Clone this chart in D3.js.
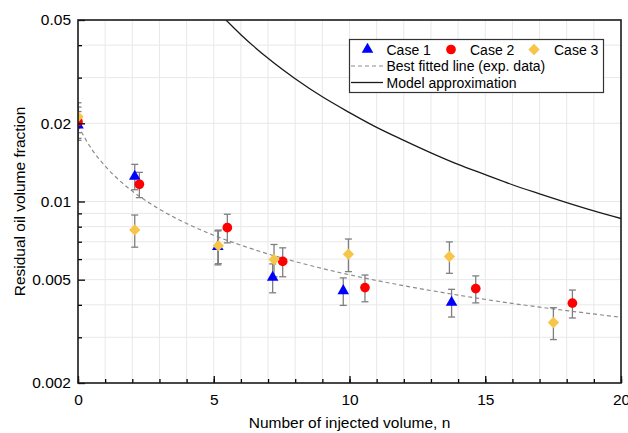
<!DOCTYPE html>
<html>
<head>
<meta charset="utf-8">
<script src="https://cdn.jsdelivr.net/npm/d3@7"></script>
<style>
  body { margin: 0; background: #fff; }
  text { font-family: "Liberation Sans", Arial, sans-serif; fill: #000; }
</style>
</head>
<body>
<div id="chart"></div>
<script>
// data
var case1N = [0, 2.09, 5.15, 7.17, 9.77, 13.76];
var case1V = [0.0197, 0.0125, 0.0067, 0.0051, 0.00453, 0.00409];
var case1E = [0.0025, 0.0014, 0.001, 0.00065, 0.00055, 0.0005];

var case2N = [0, 2.26, 5.5, 7.54, 10.57, 14.65, 18.21];
var case2V = [0.0203, 0.01165, 0.00793, 0.00588, 0.00466, 0.00462, 0.00406];
var case2E = [0.0028, 0.0013, 0.001, 0.00075, 0.00055, 0.00055, 0.0005];

var case3N = [0, 2.09, 5.17, 7.22, 9.96, 13.68, 17.51];
var case3V = [0.0212, 0.00777, 0.00676, 0.00598, 0.00627, 0.00614, 0.00342];
var case3E = [0.0028, 0.0011, 0.001, 0.00085, 0.0009, 0.00085, 0.00048];

var fitN = [0, 0.5, 1, 1.5, 2, 3, 4, 5, 6, 7, 8, 9, 10, 12, 14, 16, 18, 20];
var fitV = [0.0196, 0.01594, 0.01369, 0.01212, 0.01097, 0.00934, 0.00823, 0.00741, 0.00679, 0.00628,
            0.00587, 0.00552, 0.00522, 0.00474, 0.00436, 0.00405, 0.0038, 0.00358];

var modelN = [5.45, 6, 7, 8, 9, 10, 11, 12, 13, 14, 15, 16, 17, 18, 19, 20];
var modelV = [0.05, 0.0439, 0.0356, 0.0297, 0.0253, 0.022, 0.0193, 0.0172, 0.0154, 0.0139,
              0.0127, 0.0116, 0.0107, 0.0099, 0.0092, 0.0086];

var xMajor = [0, 5, 10, 15, 20];
var xMinor = d3.range(0, 21, 1);
var yMajor = [0.002, 0.005, 0.01, 0.02, 0.05];
var yMajorLabels = ["0.002", "0.005", "0.01", "0.02", "0.05"];
var yMinor = [0.003, 0.004, 0.006, 0.007, 0.008, 0.009, 0.03, 0.04];

var width = 628, height = 433;
var margin = {top: 20, right: 7, bottom: 50, left: 78};

var svg = d3.select("#chart").append("svg")
    .attr("width", width)
    .attr("height", height);

var x = d3.scaleLinear().domain([0, 20]).range([margin.left, width - margin.right]);
var y = d3.scaleLog().domain([0.002, 0.05]).range([height - margin.bottom, margin.top]);

svg.append("clipPath").attr("id", "plot-clip")
  .append("rect")
    .attr("x", margin.left).attr("y", margin.top)
    .attr("width", x(20) - x(0)).attr("height", y(0.002) - y(0.05));

// grid
var grid = svg.append("g").attr("stroke", "#e8e8e8").attr("stroke-width", 1);
grid.selectAll(".gx").data(xMinor.slice(1, -1)).enter().append("line")
    .attr("x1", function(d){ return x(d); }).attr("x2", function(d){ return x(d); })
    .attr("y1", y(0.002)).attr("y2", y(0.05));
grid.selectAll(".gy").data(yMinor.concat(yMajor.slice(1, -1))).enter().append("line")
    .attr("y1", function(d){ return y(d); }).attr("y2", function(d){ return y(d); })
    .attr("x1", x(0)).attr("x2", x(20));

var plot = svg.append("g").attr("clip-path", "url(#plot-clip)");

// lines
var lineGen = d3.line()
    .x(function(d){ return x(d[0]); })
    .y(function(d){ return y(d[1]); })
    .curve(d3.curveMonotoneX);

plot.append("path")
    .datum(d3.zip(fitN, fitV))
    .attr("d", lineGen)
    .attr("fill", "none")
    .attr("stroke", "#8c8c8c")
    .attr("stroke-width", 1.2)
    .attr("stroke-dasharray", "4,3");

plot.append("path")
    .datum(d3.zip(modelN, modelV))
    .attr("d", lineGen)
    .attr("fill", "none")
    .attr("stroke", "#1a1a1a")
    .attr("stroke-width", 1.3);

// series
var series = [
  {n: case1N, v: case1V, e: case1E, color: "#0000ff", shape: d3.symbolTriangle, size: 58, rot: 0},
  {n: case2N, v: case2V, e: case2E, color: "#ff0000", shape: d3.symbolCircle, size: 74, rot: 0},
  {n: case3N, v: case3V, e: case3E, color: "#f7c548", shape: d3.symbolSquare, size: 64, rot: 45}
];

series.forEach(function(s){
  var pts = d3.zip(s.n, s.v, s.e);
  var eb = plot.append("g").attr("stroke", "#7f7f7f").attr("stroke-width", 1.3);
  pts.forEach(function(p){
    var cx = x(p[0]);
    var t = y(p[1] + p[2]), b = y(p[1] - p[2]);
    eb.append("line").attr("x1", cx).attr("x2", cx).attr("y1", t).attr("y2", b);
    eb.append("line").attr("x1", cx - 3.5).attr("x2", cx + 3.5).attr("y1", t).attr("y2", t);
    eb.append("line").attr("x1", cx - 3.5).attr("x2", cx + 3.5).attr("y1", b).attr("y2", b);
  });
});

series.forEach(function(s){
  var pts = d3.zip(s.n, s.v);
  plot.append("g").selectAll("path").data(pts).enter().append("path")
      .attr("d", d3.symbol().type(s.shape).size(s.size))
      .attr("transform", function(d){ return "translate(" + x(d[0]) + "," + y(d[1]) + ") rotate(" + s.rot + ")"; })
      .attr("fill", s.color);
});

// axes
var axisFont = "15.5px";
var xAxis = svg.append("g")
    .attr("transform", "translate(0," + y(0.002) + ")")
    .call(d3.axisBottom(x).tickValues(xMinor).tickSize(-4).tickFormat(""));
xAxis.select(".domain").remove();
var xAxisMajor = svg.append("g")
    .attr("transform", "translate(0," + y(0.002) + ")")
    .call(d3.axisBottom(x).tickValues(xMajor).tickSize(-7).tickPadding(11).tickFormat(d3.format("d")));
xAxisMajor.select(".domain").remove();
xAxisMajor.selectAll("text").style("font-size", axisFont).attr("fill", "#000");

var yAxis = svg.append("g")
    .attr("transform", "translate(" + x(0) + ",0)")
    .call(d3.axisLeft(y).tickValues(yMinor).tickSize(-4).tickFormat(""));
yAxis.select(".domain").remove();
var yAxisMajor = svg.append("g")
    .attr("transform", "translate(" + x(0) + ",0)")
    .call(d3.axisLeft(y).tickValues(yMajor).tickSize(-7).tickPadding(7)
      .tickFormat(function(d, i){ return yMajorLabels[i]; }));
yAxisMajor.select(".domain").remove();
yAxisMajor.selectAll("text").style("font-size", axisFont).attr("fill", "#000");

svg.selectAll(".tick line").attr("stroke", "#000").attr("stroke-width", 1.3);

// frame
svg.append("rect")
    .attr("x", x(0)).attr("y", y(0.05))
    .attr("width", x(20) - x(0)).attr("height", y(0.002) - y(0.05))
    .attr("fill", "none").attr("stroke", "#1a1a1a").attr("stroke-width", 1.6);

svg.append("text")
    .attr("x", (x(0) + x(20)) / 2).attr("y", 428)
    .attr("text-anchor", "middle").style("font-size", axisFont)
    .text("Number of injected volume, n");
svg.append("text")
    .attr("transform", "translate(25," + (y(0.002) + y(0.05)) / 2 + ") rotate(-90)")
    .attr("text-anchor", "middle").style("font-size", axisFont)
    .text("Residual oil volume fraction");

// legend
var legend = svg.append("g");
legend.append("rect")
    .attr("x", 349.5).attr("y", 39.5).attr("width", 254).attr("height", 53)
    .attr("fill", "#fff").attr("stroke", "#333").attr("stroke-width", 1.2);
var legItems = [
  {label: "Case 1", sx: 367.5, tx: 386.5, s: series[0]},
  {label: "Case 2", sx: 451, tx: 470, s: series[1]},
  {label: "Case 3", sx: 534, tx: 554, s: series[2]}
];
legItems.forEach(function(d){
  legend.append("path")
      .attr("d", d3.symbol().type(d.s.shape).size(d.s.size))
      .attr("transform", "translate(" + d.sx + ",49.5) rotate(" + d.s.rot + ")")
      .attr("fill", d.s.color);
  legend.append("text").attr("x", d.tx).attr("y", 54.5).style("font-size", "14px").text(d.label);
});
legend.append("line").attr("x1", 351).attr("x2", 383).attr("y1", 66).attr("y2", 66)
    .attr("stroke", "#8c8c8c").attr("stroke-width", 1.2).attr("stroke-dasharray", "4,3");
legend.append("text").attr("x", 386.5).attr("y", 71).style("font-size", "14px").text("Best fitted line (exp. data)");
legend.append("line").attr("x1", 351).attr("x2", 383).attr("y1", 82.5).attr("y2", 82.5)
    .attr("stroke", "#1a1a1a").attr("stroke-width", 1.3);
legend.append("text").attr("x", 386.5).attr("y", 87.5).style("font-size", "14px").text("Model approximation");
</script>
</body>
</html>
